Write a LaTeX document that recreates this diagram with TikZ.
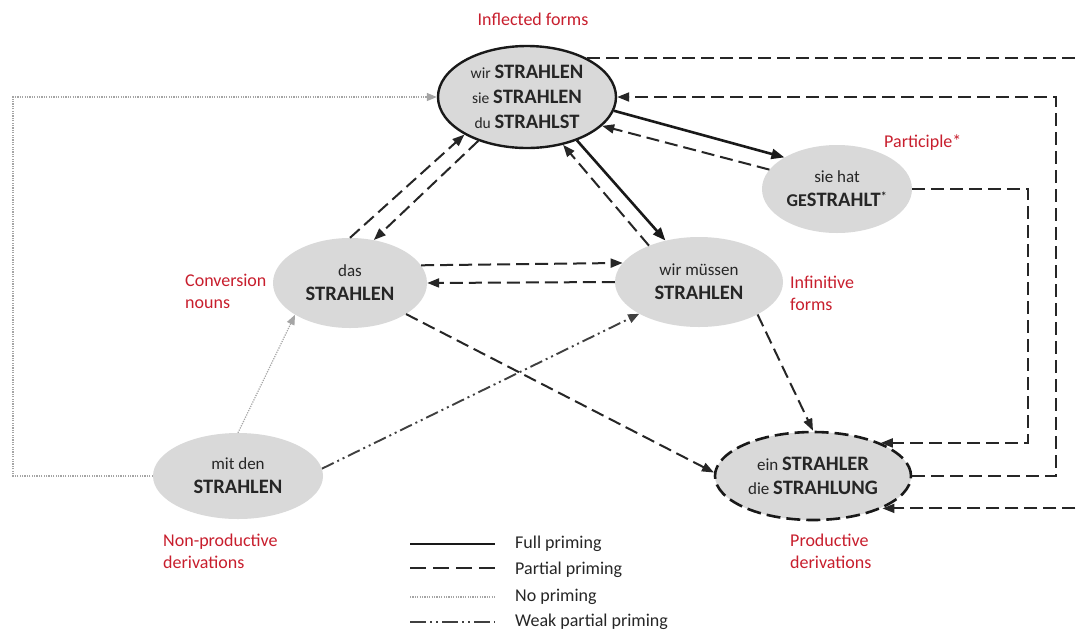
\documentclass[tikz,border=0pt]{standalone}
\usepackage{fontspec}
\setmainfont{Carlito}
\usetikzlibrary{arrows.meta,shapes.geometric}
\definecolor{lab}{RGB}{200,30,45}
\definecolor{nodefill}{RGB}{217,217,217}
\definecolor{txt}{RGB}{38,38,38}
\definecolor{dotgrey}{RGB}{165,165,165}
\definecolor{wpgrey}{RGB}{64,64,64}
\newcommand\bstr[1]{{\bfseries\fontsize{20.5}{24}\selectfont #1}}
\newcommand\smw[1]{{\fontsize{15.5}{25}\selectfont #1}}
\begin{document}
\begin{tikzpicture}[x=1pt,y=-1pt,
  nd/.style={ellipse, fill=nodefill, inner sep=0pt, text=txt, align=center,
    font=\fontsize{17}{24}\selectfont},
  lbl/.style={text=lab, font=\fontsize{18}{22}\selectfont, inner sep=0pt, align=left},
  legtext/.style={text=txt, font=\fontsize{18}{22}\selectfont, inner sep=0pt, anchor=west},
  full/.style={line width=2.6pt, draw=black!90, -{Triangle[length=13pt,width=10pt]}},
  partial/.style={line width=2pt, draw=black!85, dash pattern=on 13pt off 6pt,
    -{Triangle[length=12pt,width=9pt]}},
  noprime/.style={line width=1.2pt, draw=dotgrey, dash pattern=on 1.2pt off 1.2pt,
    -{Triangle[length=10pt,width=8pt,fill=dotgrey]}},
  weak/.style={line width=1.9pt, draw=wpgrey,
    dash pattern=on 13pt off 4pt on 2pt off 4pt on 2pt off 4pt,
    -{Triangle[length=11pt,width=9pt]}}
]
\useasboundingbox (0,0) rectangle (1077,633);
\fill[white] (0,0) rectangle (1077,633);
\clip (0,0) rectangle (1077,633);

% nodes
\node[nd, draw=black!90, line width=2.4pt, minimum width=178pt, minimum height=102pt]
  (infl) at (527,97) {\smw{wir} \bstr{STRAHLEN}\\[1pt] \smw{sie} \bstr{STRAHLEN}\\[1pt] \smw{du} \bstr{STRAHLST}};
\node[nd, minimum width=150pt, minimum height=88pt] (partic) at (837,189)
  {sie hat\\ {\bfseries\fontsize{18}{24}\selectfont GE}\bstr{STRAHLT}\textsuperscript{\bfseries *}};
\node[nd, minimum width=154pt, minimum height=90pt] (das) at (350,283) {das\\ \bstr{STRAHLEN}};
\node[nd, minimum width=168pt, minimum height=90pt] (inf) at (699,282) {wir müssen\\ \bstr{STRAHLEN}};
\node[nd, draw=black!90, line width=2.6pt, dash pattern=on 14pt off 6pt,
  minimum width=196pt, minimum height=88pt] (prod) at (813,476) {ein \bstr{STRAHLER}\\ die \bstr{STRAHLUNG}};
\node[nd, minimum width=170pt, minimum height=86pt] (mit) at (238,476) {mit den\\ \bstr{STRAHLEN}};

% labels
\node[lbl, anchor=base] (lInfl) at (533,25) {Inflected forms};
\node[lbl, anchor=base west] (lPart) at (884,147) {Participle*};
\node[lbl, anchor=base west] (lConv) at (185,308) {Conversion\\nouns};
\node[lbl, anchor=base west] (lInf) at (790,310) {Infinitive\\forms};
\node[lbl, anchor=base west] (lNon) at (163,568) {Non-productive\\derivations};
\node[lbl, anchor=base west] (lProd) at (790,568) {Productive\\derivations};

% helper coordinates
\coordinate (rOut) at (1100,300);
\coordinate (rMid) at (1056,300);
\coordinate (rIn) at (1028,300);
\coordinate (lOut) at (13,300);

% connectors
\draw[full] (infl.-9) -- (partic.149);
\draw[partial] (partic.164) -- (infl.-21);
\draw[full] (infl.-41) -- (inf.129);
\draw[partial] (inf.144) -- (infl.-53);
\draw[partial] (das.90) -- (infl.-149);
\draw[partial] (infl.-138) -- (das.61);
\draw[partial] (das.14) -- (inf.166);
\draw[partial] (inf.180) -- (das.0);
\draw[partial] (das.-29) -- (prod.178);
\draw[partial] (inf.-29) -- (prod.90);
\draw[noprime] (mit.90) -- (das.-150);
\draw[weak] (mit.5) -- (inf.-152);
\draw[noprime] (mit.180) -| (lOut) |- (infl.180);
\draw[partial] (partic.0) -| (rIn) |- (prod.26);
\draw[partial] (prod.0) -| (rMid) |- (infl.0);
\draw[partial] (infl.33) -| (rOut) |- (prod.-25);

% legend
\coordinate (g1a) at (410,544); \coordinate (g1b) at (495,544);
\coordinate (g2a) at (410,568); \coordinate (g2b) at (495,568);
\coordinate (g3a) at (410,597); \coordinate (g3b) at (495,597);
\coordinate (g4a) at (410,622); \coordinate (g4b) at (495,622);
\draw[full, -] (g1a) -- (g1b);
\draw[partial, -, dash pattern=on 16pt off 7pt] (g2a) -- (g2b);
\draw[noprime, -] (g3a) -- (g3b);
\draw[weak, -, dash pattern=on 16pt off 4pt on 2pt off 4pt on 2pt off 4pt] (g4a) -- (g4b);
\node[legtext] (t1) at (515,544) {Full priming};
\node[legtext] (t2) at (515,570) {Partial priming};
\node[legtext] (t3) at (515,597) {No priming};
\node[legtext] (t4) at (515,622) {Weak partial priming};
\end{tikzpicture}
\end{document}
